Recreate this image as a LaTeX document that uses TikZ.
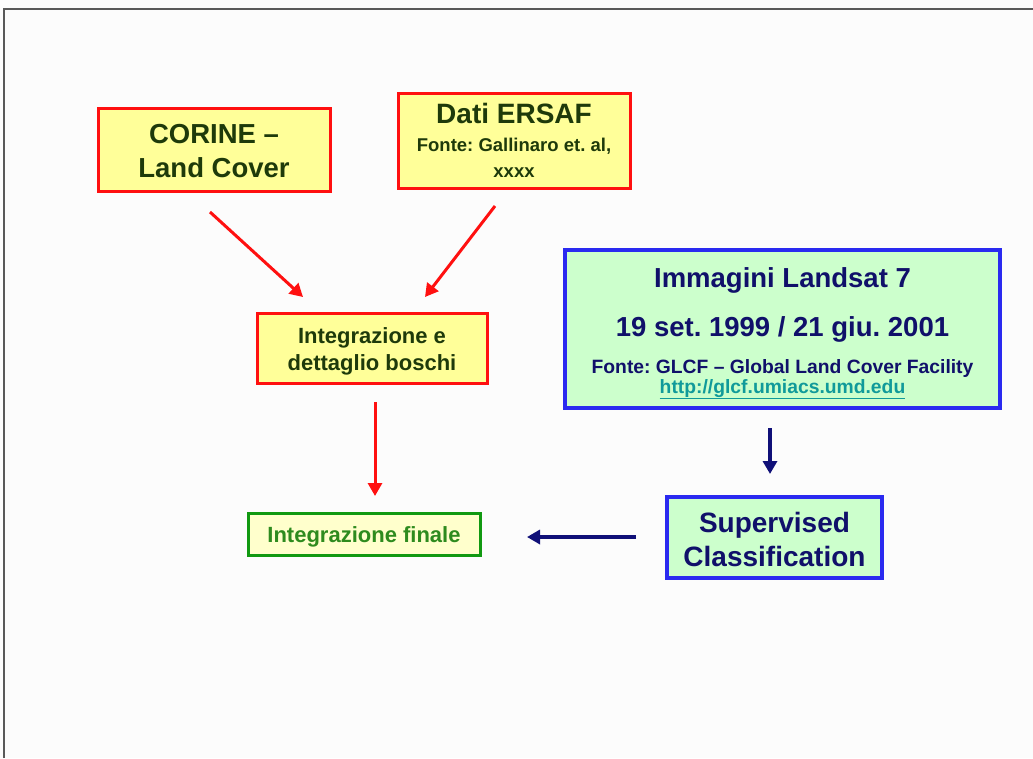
\documentclass[tikz,border=0pt]{standalone}
\usepackage{fontspec}
\setmainfont{Liberation Sans}
\usetikzlibrary{arrows.meta}
\frenchspacing
\definecolor{boxred}{HTML}{FF1010}
\definecolor{yfill}{HTML}{FFFF99}
\definecolor{dtext}{HTML}{1E3A0A}
\definecolor{navy}{HTML}{10106A}
\definecolor{bborder}{HTML}{2A2AF0}
\definecolor{gfill}{HTML}{CCFFCC}
\definecolor{gborder}{HTML}{119911}
\definecolor{gtext}{HTML}{2E8B1E}
\definecolor{ffill}{HTML}{FFFFCC}
\definecolor{urlc}{HTML}{109A9A}
\definecolor{arrnavy}{HTML}{101078}
\begin{document}
\begin{tikzpicture}[x=1pt,y=-1pt,
  redbox/.style={draw=boxred,fill=yfill,line width=3pt,minimum width=#1,inner sep=0pt,rectangle},
  bluebox/.style={draw=bborder,fill=gfill,line width=3.5pt,inner sep=0pt,rectangle},
  greenbox/.style={draw=gborder,fill=ffill,line width=3pt,inner sep=0pt,rectangle},
  txt/.style={anchor=base,inner sep=0pt,font=\bfseries},
  redarrow/.style={draw=boxred,line width=3pt,-{Triangle[width=14pt,length=13pt]}},
  navyarrow/.style={draw=arrnavy,line width=3.5pt,-{Triangle[width=14pt,length=13pt]}}]
\useasboundingbox (0,0) rectangle (1033,758);
\fill[white!99!black] (0,0) rectangle (1033,758);
\draw[line width=2pt,black!65] (4,758) -- (4,9) -- (1033,9);

% boxes
\node[redbox=232pt,minimum height=83pt] (corine) at (214,149.5) {};
\node[redbox=232pt,minimum height=95pt] (ersaf) at (514,140.5) {};
\node[redbox=230pt,minimum height=70pt] (integ) at (372,348) {};
\node[greenbox,minimum width=232pt,minimum height=42pt] (final) at (364,534) {};
\node[bluebox,minimum width=435pt,minimum height=158pt] (landsat) at (782.5,329) {};
\node[bluebox,minimum width=215pt,minimum height=81pt] (sup) at (774.5,537.5) {};

% texts
\node[txt,text=dtext,font=\bfseries\fontsize{27.5}{30}\selectfont] (corine1) at (214,143) {CORINE –};
\node[txt,text=dtext,font=\bfseries\fontsize{27.5}{30}\selectfont] (corine2) at (214,177) {Land Cover};
\node[txt,text=dtext,font=\bfseries\fontsize{28}{30}\selectfont] (ersaf1) at (514,123) {Dati ERSAF};
\node[txt,text=dtext,font=\bfseries\fontsize{18.5}{20}\selectfont] (ersaf2) at (514,151) {Fonte: Gallinaro et. al,};
\node[txt,text=dtext,font=\bfseries\fontsize{18.5}{20}\selectfont] (ersaf3) at (514,177) {xxxx};
\node[txt,text=dtext,font=\bfseries\fontsize{22}{24}\selectfont] (integ1) at (372,343) {Integrazione e};
\node[txt,text=dtext,font=\bfseries\fontsize{22}{24}\selectfont] (integ2) at (372,370) {dettaglio boschi};
\node[txt,text=gtext,font=\bfseries\fontsize{22}{24}\selectfont] (final1) at (364,542) {Integrazione finale};
\node[txt,text=navy,font=\bfseries\fontsize{27.5}{30}\selectfont] (land1) at (782.5,287) {Immagini Landsat 7};
\node[txt,text=navy,font=\bfseries\fontsize{27.5}{30}\selectfont] (land2) at (782.5,336) {19 set. 1999 / 21 giu. 2001};
\node[txt,text=navy,font=\bfseries\fontsize{19.3}{22}\selectfont] (land3) at (782.5,373) {Fonte: GLCF – Global Land Cover Facility};
\node[txt,text=urlc,font=\bfseries\fontsize{19.3}{22}\selectfont] (land4) at (782.5,393) {\underline{http://glcf.umiacs.umd.edu}};
\node[txt,text=navy,font=\bfseries\fontsize{28}{30}\selectfont] (sup1) at (774.5,532) {Supervised};
\node[txt,text=navy,font=\bfseries\fontsize{28}{30}\selectfont] (sup2) at (774.5,566) {Classification};

% connector end points
\coordinate (a1s) at (210,212);
\coordinate (a1e) at (303,297);
\coordinate (a2s) at (495,206);
\coordinate (a2e) at (425,297);
\coordinate (a3s) at (375,402);
\coordinate (a3e) at (375,496);
\coordinate (a4s) at (770,428);
\coordinate (a4e) at (770,474);
\coordinate (a5s) at (636,537);
\coordinate (a5e) at (527,537);

\draw[redarrow] (a1s) -- (a1e);
\draw[redarrow] (a2s) -- (a2e);
\draw[redarrow] (a3s) -- (a3e);
\draw[navyarrow] (a4s) -- (a4e);
\draw[navyarrow] (a5s) -- (a5e);
\end{tikzpicture}
\end{document}
